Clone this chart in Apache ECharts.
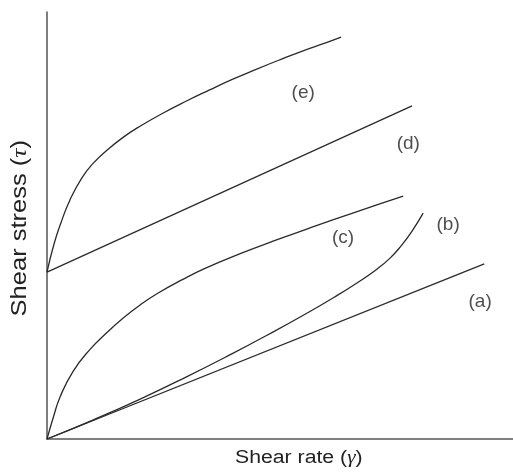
<!DOCTYPE html>
<html>
<head>
<meta charset="utf-8">
<script src="https://cdn.jsdelivr.net/npm/echarts@6/dist/echarts.min.js"></script>
<style>html,body{margin:0;padding:0;background:#fff}#c{width:513px;height:472px}</style>
</head>
<body>
<div id="c"></div>
<script>
// Data (arbitrary units: shear rate 0..100, shear stress 0..100)
const curveA = [[0, 0], [94.4, 41.0]];
const curveB = [[0, 0], [10, 4.5], [20, 9.3], [30, 14.5], [40, 20.0], [48, 24.6], [56, 29.4], [62, 33.2], [67, 36.6], [71, 39.6], [74, 42.3], [76.5, 45.3], [78.7, 48.5], [81.2, 52.9]];
const curveC = [[0, 0], [1.4, 5.2], [2.8, 9.8], [5.6, 15.8], [9.3, 21.0], [13, 25.0], [16.4, 28.3], [20.1, 31.4], [24, 34.2], [29, 37.2], [34, 39.9], [41.7, 43.4], [50, 46.8], [58, 49.9], [66, 52.9], [72, 55.1], [76.9, 56.9]];
const curveD = [[0, 39.1], [78.8, 78.0]];
const curveE = [[0, 39.1], [1.5, 45.6], [3, 50.6], [5, 56.1], [7.5, 61.1], [10, 64.6], [13, 67.7], [16.5, 70.7], [20, 73.2], [25, 76.3], [30, 79.1], [35, 81.7], [40, 84.2], [45, 86.5], [50, 88.7], [55, 90.8], [60, 92.7], [63.5, 94.1]];
const curveLabels = ['(a)', '(b)', '(c)', '(d)', '(e)'];
const labelPos = [[93.5, 32.1], [86.6, 50.1], [63.9, 47.1], [78.0, 69.1], [55.3, 81.0]];
const xTitle = 'Shear rate';
const yTitle = 'Shear stress';

const lineColor = '#2a2a2a';
function curve(name, data, smooth) {
  return {
    name: name, type: 'line', data: data, smooth: smooth, showSymbol: false, symbol: 'none',
    lineStyle: { color: lineColor, width: 1.3 }, silent: true, animation: false
  };
}

const chart = echarts.init(document.getElementById('c'));
chart.setOption({
  backgroundColor: '#fff',
  animation: false,
  grid: { left: 47, right: 0, top: 12, bottom: 33, containLabel: false },
  xAxis: {
    type: 'value', min: 0, max: 100.6,
    axisLine: { show: true, onZero: false, lineStyle: { color: '#555', width: 1.5 } },
    axisTick: { show: false }, axisLabel: { show: false }, splitLine: { show: false }
  },
  yAxis: {
    type: 'value', min: 0, max: 100,
    axisLine: { show: true, onZero: false, lineStyle: { color: '#555', width: 1.5 } },
    axisTick: { show: false }, axisLabel: { show: false }, splitLine: { show: false }
  },
  series: [
    curve('a', curveA, false),
    curve('b', curveB, 0.5),
    curve('c', curveC, 0.5),
    curve('d', curveD, false),
    curve('e', curveE, 0.5),
    {
      type: 'scatter', symbolSize: 0, silent: true,
      data: labelPos.map((p, i) => ({ value: p, name: curveLabels[i] })),
      label: {
        show: true, position: 'inside', formatter: '{b}',
        color: '#222', fontSize: 19, fontFamily: 'Liberation Sans, Arial, sans-serif'
      }
    }
  ],
  graphic: [
    {
      type: 'text', left: 235, top: 449, scaleX: 1.18,
      style: {
        text: xTitle + ' ({g|γ})', fill: '#222', fontSize: 18,
        fontFamily: 'Liberation Sans, Arial, sans-serif',
        rich: { g: { fontFamily: 'Liberation Serif, serif', fontStyle: 'italic', fontSize: 18, fill: '#222' } }
      }
    },
    {
      type: 'text', left: 9, top: 140, rotation: Math.PI / 2, scaleX: 1.16, originX: 0, originY: 0,
      style: {
        text: yTitle + ' ({g|τ})', fill: '#222', fontSize: 22,
        fontFamily: 'Liberation Sans, Arial, sans-serif',
        rich: { g: { fontFamily: 'Liberation Serif, serif', fontStyle: 'italic', fontSize: 22, fill: '#222' } }
      }
    }
  ]
});
</script>
</body>
</html>
